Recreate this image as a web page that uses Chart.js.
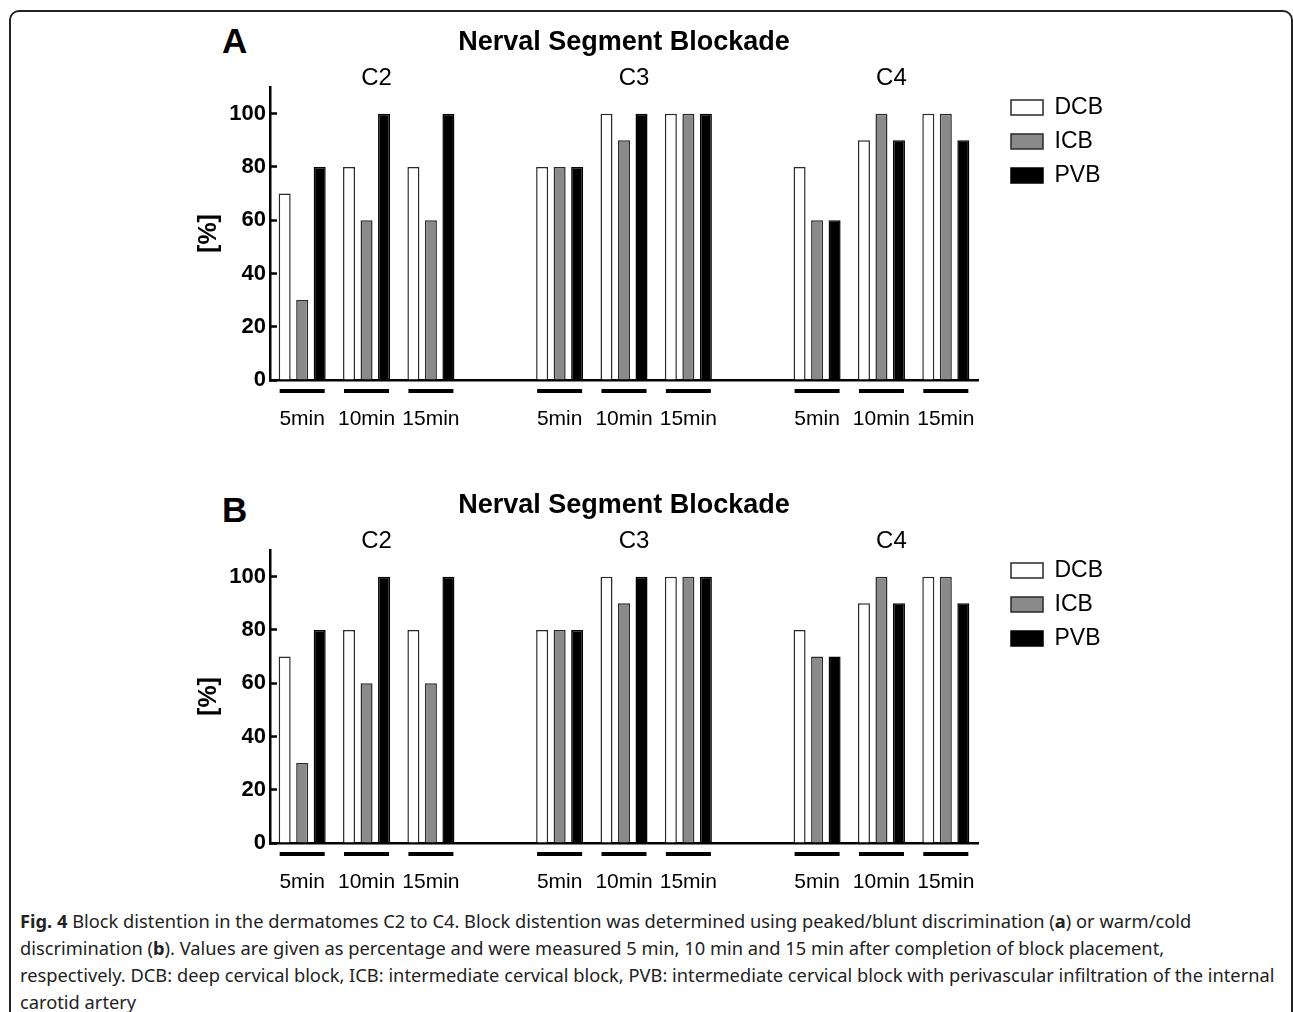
<!DOCTYPE html>
<html>
<head>
<meta charset="utf-8">
<script src="https://cdn.jsdelivr.net/npm/chart.js@4.4.1/dist/chart.umd.min.js"></script>
<style>
  html, body { margin: 0; padding: 0; background: #fff; overflow: hidden; }
  body { width: 1293px; height: 1012px; position: relative; }
  .frame { position: absolute; left: 9px; top: 10px; width: 1280px; height: 1020px;
           border: 2px solid #222; border-radius: 10px; }
  canvas { position: absolute; left: 0; }
  .panel { position: absolute; left: 222px; font: bold 35px "Liberation Sans", Arial, sans-serif;
           line-height: 1; color: #000; }
  .caption { position: absolute; left: 20px; top: 907px; font: 18.3px "Noto Sans", "Open Sans", sans-serif;
             line-height: 27px; color: #222; white-space: nowrap; }
</style>
</head>
<body>
<div class="frame"></div>
<div class="panel" style="top:23px">A</div>
<div class="panel" style="top:492px">B</div>
<canvas id="chartA" width="1293" height="440" style="top:0px"></canvas>
<canvas id="chartB" width="1293" height="440" style="top:463px"></canvas>
<div class="caption">
<b>Fig. 4</b> Block distention in the dermatomes C2 to C4. Block distention was determined using peaked/blunt discrimination (<b>a</b>) or warm/cold<br>
discrimination (<b>b</b>). Values are given as percentage and were measured 5&nbsp;min, 10&nbsp;min and 15&nbsp;min after completion of block placement,<br>
respectively. DCB: deep cervical block, ICB: intermediate cervical block, PVB: intermediate cervical block with perivascular infiltration of the internal<br>
carotid artery
</div>
<script>
// categories: 3 times per segment, empty slot between segments
const timeLabels = ['5min', '10min', '15min', '', '5min', '10min', '15min', '', '5min', '10min', '15min'];
const segmentLabels = ['', 'C2', '', '', '', 'C3', '', '', '', 'C4', ''];
const seriesNames = ['DCB', 'ICB', 'PVB'];

// panel A: peaked/blunt
const dcbA = [70, 80, 80, null, 80, 100, 100, null, 80, 90, 100];
const icbA = [30, 60, 60, null, 80, 90, 100, null, 60, 100, 100];
const pvbA = [80, 100, 100, null, 80, 100, 100, null, 60, 90, 90];

// panel B: warm/cold
const dcbB = [70, 80, 80, null, 80, 100, 100, null, 80, 90, 100];
const icbB = [30, 60, 60, null, 80, 90, 100, null, 70, 100, 100];
const pvbB = [80, 100, 100, null, 80, 100, 100, null, 70, 90, 90];

const yMax = 110;
const yStep = 20;

const fill = ['#ffffff', '#8a8a8a', '#000000'];
const FONT = '"Liberation Sans", Arial, sans-serif';

// black bars under each group of three
const groupLines = {
  id: 'groupLines',
  afterDatasetsDraw(chart) {
    const ctx = chart.ctx;
    const first = chart.getDatasetMeta(0).data;
    const last = chart.getDatasetMeta(2).data;
    ctx.save();
    ctx.fillStyle = '#000';
    timeLabels.forEach((lab, i) => {
      if (!lab) return;
      const a = first[i], b = last[i];
      const x1 = a.x - a.width / 2 + 1;
      const x2 = b.x + b.width / 2 - 1;
      ctx.fillRect(x1, chart.chartArea.bottom + 9, x2 - x1, 4);
    });
    ctx.restore();
  }
};

function makeChart(id, series) {
  return new Chart(document.getElementById(id), {
    type: 'bar',
    data: {
      labels: timeLabels,
      datasets: series.map((d, i) => ({
        label: seriesNames[i],
        data: d,
        backgroundColor: fill[i],
        borderColor: i == 2 ? '#000' : '#2a2a2a',
        borderWidth: 1.5,
        borderSkipped: 'start',
        categoryPercentage: 0.816,
        barPercentage: 0.686
      }))
    },
    options: {
      responsive: false,
      animation: false,
      devicePixelRatio: 1,
      layout: { padding: { top: 0, left: 190, right: 185, bottom: 0 } },
      scales: {
        x: {
          grid: { display: false, drawTicks: false },
          border: { color: '#000', width: 2.5 },
          ticks: { color: '#000', font: { family: FONT, size: 21 }, padding: 27, autoSkip: false, maxRotation: 0 },
          afterFit: s => { s.height = 60; }
        },
        x2: {
          type: 'category',
          labels: segmentLabels,
          position: 'top',
          offset: true,
          grid: { display: false, drawTicks: false },
          border: { display: false },
          ticks: { color: '#000', font: { family: FONT, size: 24, lineHeight: 1 }, padding: -3, labelOffset: 10, autoSkip: false, maxRotation: 0 },
          afterFit: s => { s.height = 21; }
        },
        y: {
          min: 0,
          max: yMax,
          ticks: { stepSize: yStep, includeBounds: false, color: '#000', font: { family: FONT, size: 22, weight: 'bold' }, padding: 11 },
          grid: { drawOnChartArea: false, tickLength: -7, tickWidth: 2.5, tickColor: '#000' },
          border: { color: '#000', width: 2.5 },
          title: { display: true, text: '[%]', color: '#000', font: { family: FONT, size: 25, weight: 'bold' } },
          afterFit: s => { s.width = 80; }
        },
        yR: {
          position: 'right',
          grid: { display: false, drawTicks: false },
          border: { display: false },
          ticks: { display: false },
          afterFit: s => { s.width = 22; }
        }
      },
      plugins: {
        title: {
          display: true,
          text: 'Nerval Segment Blockade',
          color: '#000',
          fullSize: false,
          font: { family: FONT, size: 27, weight: 'bold' },
          padding: { top: 26, bottom: 7.6 }
        },
        legend: {
          position: 'right',
          align: 'start',
          maxWidth: 108,
          title: { display: true, text: '', font: { size: 10, lineHeight: 1 }, padding: { top: 75, bottom: 0 } },
          labels: { boxWidth: 32, boxHeight: 15, padding: 11, color: '#000', font: { family: FONT, size: 23 } }
        },
        tooltip: { enabled: false }
      }
    },
    plugins: [groupLines]
  });
}

makeChart('chartA', [dcbA, icbA, pvbA]);
makeChart('chartB', [dcbB, icbB, pvbB]);
</script>
</body>
</html>
